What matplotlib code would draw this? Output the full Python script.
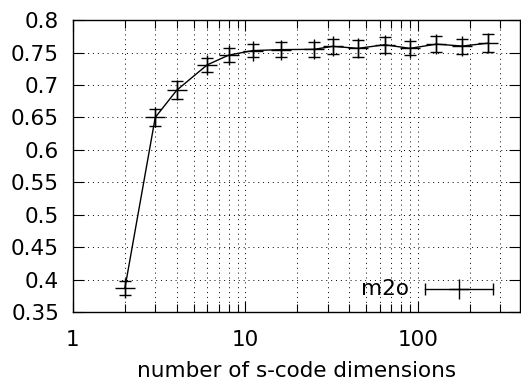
import numpy as np
import matplotlib.pyplot as plt
from matplotlib.ticker import FixedLocator, NullFormatter

# s-code dimensions vs score (m2o)
dims = [2, 3, 4, 6, 8, 11, 16, 25, 32, 45, 64, 90, 128, 180, 256]
m2o = [0.3865, 0.650, 0.692, 0.731, 0.746, 0.753, 0.7545, 0.755, 0.7595,
       0.7565, 0.762, 0.7565, 0.763, 0.760, 0.7645]
m2o_err = [0.011, 0.013, 0.014, 0.0105, 0.011, 0.010, 0.012, 0.012, 0.012,
           0.013, 0.012, 0.011, 0.012, 0.0115, 0.0135]

x_ticks = [1, 10, 100]
x_labels = ['1', '10', '100']
y_ticks = [0.35, 0.4, 0.45, 0.5, 0.55, 0.6, 0.65, 0.7, 0.75, 0.8]
y_labels = ['0.35', '0.4', '0.45', '0.5', '0.55', '0.6', '0.65', '0.7', '0.75', '0.8']

fs = 15.5

fig = plt.figure(figsize=(5.21, 3.87), dpi=100)
ax = fig.add_axes([0.140, 0.194, 0.858, 0.754])

ax.errorbar(dims, m2o, yerr=m2o_err, color='black', lw=1.0,
            marker='+', markersize=14, markeredgewidth=1.0,
            capsize=4.2, capthick=1.0, elinewidth=1.0)

ax.set_xscale('log')
ax.set_xlim(1, 390)
ax.set_ylim(0.35, 0.8)

minor = [m * 10 ** e for e in range(0, 3) for m in range(2, 10)]
ax.xaxis.set_major_locator(FixedLocator(x_ticks))
ax.xaxis.set_minor_locator(FixedLocator(minor))
ax.xaxis.set_minor_formatter(NullFormatter())
ax.set_xticks(x_ticks)
ax.set_xticklabels(x_labels)
ax.set_yticks(y_ticks)
ax.set_yticklabels(y_labels)

ax.grid(True, which='both', axis='x', color='black', lw=0.7, linestyle=(0, (1, 4)))
ax.grid(True, which='major', axis='y', color='black', lw=0.7, linestyle=(0, (1, 4)))
ax.set_axisbelow(True)

ax.tick_params(which='both', direction='in', top=True, right=True,
               labelsize=fs, width=0.8)
ax.tick_params(which='major', length=8, pad=13)
ax.tick_params(which='minor', length=5.5)
ax.tick_params(axis='y', pad=10)
for s in ax.spines.values():
    s.set_linewidth(1.0)

ax.set_xlabel('number of s-code dimensions', fontsize=fs, labelpad=8)

# gnuplot-style key with horizontal error bar sample
ax.text(0.752, 0.079, 'm2o', transform=ax.transAxes, fontsize=fs,
        ha='right', va='center')
ax.plot([0.787, 0.940], [0.079, 0.079], color='black', lw=1.0, transform=ax.transAxes)
ax.plot([0.787, 0.940], [0.079, 0.079], color='black', lw=0, marker='|',
        markersize=9, markeredgewidth=1.0, transform=ax.transAxes)
ax.plot([0.864], [0.079], color='black', marker='+', markersize=14,
        markeredgewidth=1.0, transform=ax.transAxes)

fig.savefig('out.png', dpi=100)
